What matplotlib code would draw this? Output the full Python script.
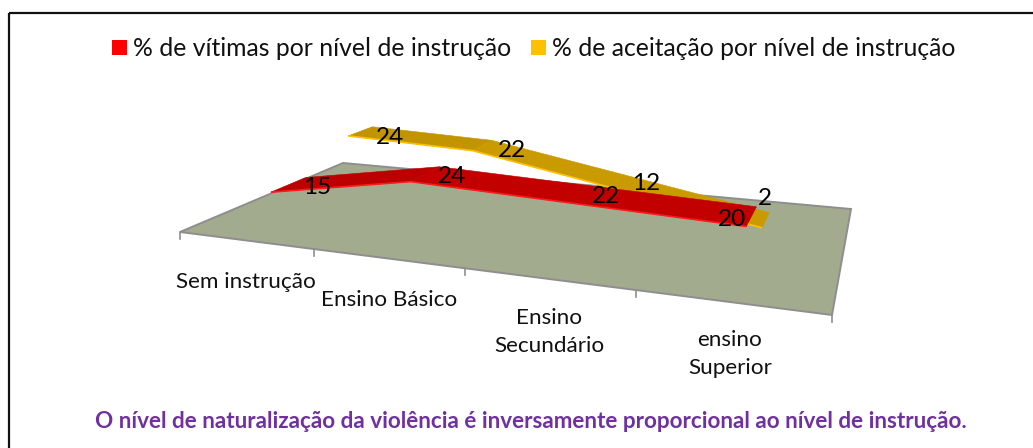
import numpy as np
import matplotlib
matplotlib.use("Agg")
import matplotlib.pyplot as plt
from matplotlib.patches import Polygon, Rectangle

# ---- data ----
categories = ["Sem instrução", "Ensino Básico", "Ensino\nSecundário", "ensino\nSuperior"]
vitimas = [15, 24, 22, 20]
aceitacao = [24, 22, 12, 2]
legend_labels = ["% de vítimas por nível de instrução", "% de aceitação por nível de instrução"]
footer = "O nível de naturalização da violência é inversamente proporcional ao nível de instrução."

# ---- camera calibration: floor corners in pixels (front-left, back-left, back-right, front-right) ----
W, H = 1033, 448
SRC = np.array([[0, 0], [0, 1], [4, 1], [4, 0]], float)
DST = np.array([[180, 232], [343, 163], [851, 209], [832, 315]], float)


def homography(src, dst):
    A, b = [], []
    for (u, v), (x, y) in zip(src, dst):
        A.append([u, v, 1, 0, 0, 0, -u * x, -v * x]); b.append(x)
        A.append([0, 0, 0, u, v, 1, -u * y, -v * y]); b.append(y)
    return np.append(np.linalg.solve(np.array(A), np.array(b)), 1).reshape(3, 3)


HM = homography(SRC, DST)
Z_SCALE = 2.65


def project(u, v, z=0.0):
    p = HM @ np.array([u, v, 1.0])
    return p[0] / p[2], p[1] / p[2] - Z_SCALE * z / p[2]


plt.rcParams["font.family"] = ["Lato", "DejaVu Sans"]
fig = plt.figure(figsize=(W / 100, H / 100), dpi=100)
ax = fig.add_axes([0, 0, 1, 1])
ax.set_xlim(0, W)
ax.set_ylim(H, 0)
ax.axis("off")

# chart frame (runs off the right and bottom of the picture)
ax.add_patch(Rectangle((9, 13.5), 1040, 450, fill=False, ec="#111111", lw=1.6, zorder=1))

# floor
ax.add_patch(Polygon([project(*c) for c in SRC], closed=True, fc="#A2AB8E", ec="#8E8E8E", lw=1.4, zorder=2))

# ticks and category labels
for u in range(5):
    x, y = project(u, 0)
    ax.plot([x, x], [y, y + 7], color="#8E8E8E", lw=1.2, zorder=2)
LABEL_XY = [(246, 281.5), (389, 299.5), (549, 331.5), (730, 353.5)]
for cat, (x, y) in zip(categories, LABEL_XY):
    ax.text(x, y, cat, ha="center", va="center", fontsize=16.2, color="#111111", linespacing=1.5, zorder=6)


def ribbon(values, u0, v0, v1, face, dark, edge, z):
    n = len(values)
    for i in range(n - 1):
        a, b = i + u0, i + 1 + u0
        quad = [project(a, v0, values[i]), project(b, v0, values[i + 1]),
                project(b, v1, values[i + 1]), project(a, v1, values[i])]
        ax.add_patch(Polygon(quad, closed=True, fc=dark if i == 0 else face, ec=dark if i == 0 else face, lw=0.4, zorder=z))
    front = [project(i + u0, v0, values[i]) for i in range(n)]
    ax.plot(*zip(*front), color=edge, lw=1.2, solid_capstyle="butt", zorder=z + 0.1)


ribbon(aceitacao, 0.5, 0.62, 0.80, "#C99B00", "#C29500", "#FFC000", 3)
ribbon(vitimas, 0.55, 0.10, 0.30, "#C30000", "#BC0000", "#FF1A1A", 4)

# data labels (offsets from the projected ribbon point)
RED_OFF = [(28, 3), (27, 3), (27, 3), (-20, 3)]
GOLD_OFF = [(30, 6), (30, 5.5), (30, 2.5), (-1, -22)]
for values, u0, v, offs in [(vitimas, 0.55, 0.2, RED_OFF), (aceitacao, 0.5, 0.71, GOLD_OFF)]:
    for i, (val, (dx, dy)) in enumerate(zip(values, offs)):
        x, y = project(i + u0, v, val)
        ax.text(x + dx, y + dy, str(val), ha="center", va="center", fontsize=17.5, color="black", zorder=7)

# legend
for sq_x, txt_x, col, lab in [(112, 133, "#FF0000", legend_labels[0]), (531, 552, "#FFC000", legend_labels[1])]:
    ax.add_patch(Rectangle((sq_x, 40), 15, 15, fc=col, ec="none", zorder=5))
    ax.text(txt_x, 48.5, lab, ha="left", va="center", fontsize=17.85, color="#111111", zorder=5)

# footer
ax.text(531, 421.5, footer, ha="center", va="center", fontsize=16.2, fontweight="bold", color="#7030A0", zorder=5)

fig.savefig("out.png", dpi=100)
